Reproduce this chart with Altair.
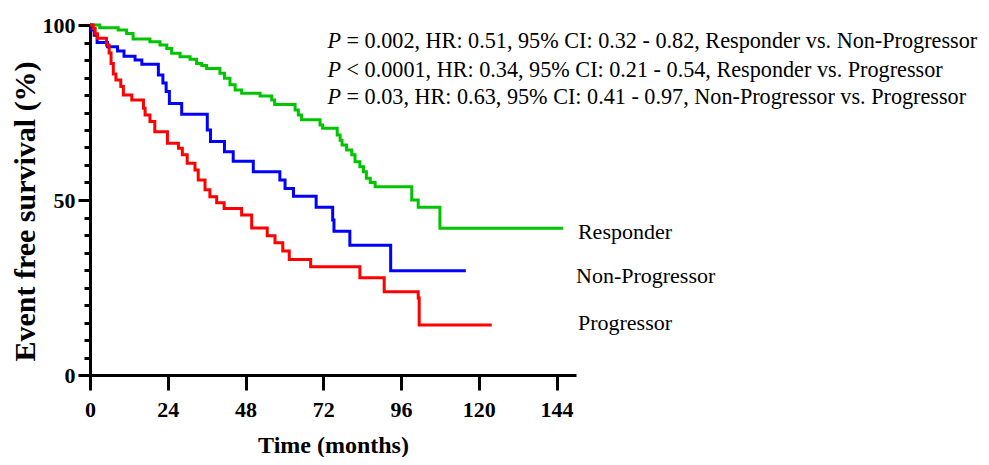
import altair as alt
import pandas as pd

# ---- data (time in months, event-free survival %) ----
green_t = [0, 3, 8.7, 11.3, 13.3, 18.5, 21.6, 23.7, 25.2, 27.8, 30.9, 32.9, 34.5, 36.0, 40.1,
           41.5, 43.2, 44.8, 46.8, 52.5, 56.1, 57.0, 63.3, 64.3, 65.3, 71.0, 71.8, 76.3, 77.2,
           77.8, 79.2, 80.8, 81.8, 83.3, 84.4, 85.3, 86.5, 88.0, 99.3, 101.3, 108.0, 146.0]
green_s = [100, 99.2, 98.6, 97.6, 96.0, 95.2, 94.3, 93.3, 91.9, 90.9, 90.2, 89.0, 88.4, 87.6, 86.2,
           84.8, 82.9, 81.4, 80.5, 79.7, 78.6, 77.3, 75.7, 74.3, 72.9, 71.4, 70.5, 68.6, 67.1,
           65.7, 64.3, 62.9, 60.9, 59.5, 58.1, 56.2, 55.0, 53.8, 50.0, 47.9, 41.9, 41.9]

blue_t = [0, 0.5, 1.3, 2.2, 5.4, 8.5, 10.5, 13.9, 16.0, 21.1, 22.5, 23.5, 24.5, 28.3, 36.2,
          37.2, 41.5, 44.2, 50.4, 58.6, 60.2, 62.8, 69.8, 74.9, 75.3, 80.2, 92.8, 116.0]
blue_s = [100, 98.6, 97.1, 95.0, 93.8, 92.6, 91.1, 90.0, 88.8, 85.7, 83.4, 81.0, 77.6, 74.5, 70.0,
          66.7, 63.8, 61.1, 58.1, 55.7, 53.3, 51.1, 47.9, 44.3, 41.1, 37.1, 29.8, 29.8]

red_t = [0, 1.0, 1.6, 2.3, 5.1, 5.9, 6.5, 7.2, 8.0, 9.5, 10.3, 12.9, 16.5, 17.0, 18.5, 20.0,
         23.9, 27.3, 28.5, 30.0, 32.4, 33.4, 35.5, 37.0, 39.1, 41.4, 46.8, 49.9, 54.7, 57.1,
         59.5, 61.5, 68.1, 83.3, 90.8, 101.3, 101.6, 124.0]
red_s = [100, 99.0, 97.5, 96.2, 94.3, 92.0, 89.0, 86.0, 84.3, 82.4, 80.0, 78.6, 76.2, 74.3, 72.4, 69.5,
         66.2, 64.8, 62.9, 60.5, 58.6, 55.7, 52.9, 50.9, 49.2, 47.6, 45.7, 42.0, 39.8, 37.8,
         35.4, 33.0, 30.9, 27.8, 23.8, 22.0, 14.3, 14.3]

group_names = ["Responder", "Non-Progressor", "Progressor"]
group_colors = ["#00C400", "#0000FF", "#FF0000"]
label_x = [150.6, 150.0, 150.6]
label_y = [38.9, 26.3, 12.9]

stat_p = ["P", "P", "P"]
stat_rest = ["= 0.002, HR: 0.51, 95% CI: 0.32 - 0.82, Responder vs. Non-Progressor",
             "< 0.0001, HR: 0.34, 95% CI: 0.21 - 0.54, Responder vs. Progressor",
             "= 0.03, HR: 0.63, 95% CI: 0.41 - 0.97, Non-Progressor vs. Progressor"]
stat_x = [73.3, 73.3, 73.3]
stat_y = [93.4, 85.1, 77.4]

x_ticks = [0, 24, 48, 72, 96, 120, 144]
y_ticks = list(range(0, 101, 5))

FONT = "Liberation Serif"

xs = alt.Scale(domain=[0, 150], nice=False, zero=False)
ys = alt.Scale(domain=[0, 100], nice=False)

x_axis = alt.Axis(values=x_ticks, title="Time (months)", grid=False, labelFlush=False,
                  labelFont=FONT, labelFontSize=22, labelFontWeight="bold", labelColor="black",
                  labelPadding=9, tickSize=15, tickWidth=3, tickColor="black",
                  domainWidth=3, domainColor="black",
                  titleFont=FONT, titleFontSize=24, titleFontWeight="bold", titleColor="black",
                  titleBaseline="alphabetic", titleY=77, titleX=243)
y_axis = alt.Axis(values=y_ticks, title="Event free survival (%)", grid=False, labelFlush=False,
                  labelExpr="datum.value % 50 == 0 ? datum.label : ''",
                  labelFont=FONT, labelFontSize=22, labelFontWeight="bold", labelColor="black",
                  labelPadding=3,
                  tickSize={"condition": {"test": "datum.value % 50 == 0", "value": 12}, "value": 6},
                  tickWidth=3, tickColor="black", domainWidth=3, domainColor="black",
                  titleFont=FONT, titleFontSize=30, titleFontWeight="bold", titleColor="black",
                  titleAlign="center", titleBaseline="middle", titleX=-65, titleY=186)


def X(field):
    return alt.X(field, scale=xs, axis=x_axis)


def Y(field):
    return alt.Y(field, scale=ys, axis=y_axis)


layers = []
series = [(green_t, green_s), (blue_t, blue_s), (red_t, red_s)]
for i, (t, s) in enumerate(series):
    df = pd.DataFrame({"x": t, "y": s})
    layers.append(alt.Chart(df).mark_line(interpolate="step-after", strokeWidth=3,
                                          color=group_colors[i]).encode(x=X("x:Q"), y=Y("y:Q")))

lab_df = pd.DataFrame({"x": label_x, "y": label_y, "name": group_names})
labels = alt.Chart(lab_df).mark_text(align="left", baseline="alphabetic", font=FONT,
                                     fontSize=22, color="black").encode(
    x=X("x:Q"), y=Y("y:Q"), text="name:N")

st_df = pd.DataFrame({"x": stat_x, "y": stat_y, "p": stat_p, "rest": stat_rest})
st_p = alt.Chart(st_df).mark_text(align="left", baseline="alphabetic", font=FONT, fontSize=22.2,
                                  fontStyle="italic", color="black").encode(
    x=X("x:Q"), y=Y("y:Q"), text="p:N")
st_rest = alt.Chart(st_df).mark_text(align="left", baseline="alphabetic", font=FONT, fontSize=22.2,
                                     dx=19, color="black").encode(
    x=X("x:Q"), y=Y("y:Q"), text="rest:N")

chart = alt.layer(*layers, labels, st_p, st_rest).properties(
    width=486, height=350,
    background="white",
    autosize=alt.AutoSizeParams(type="none"),
    padding={"left": 82, "top": 17, "right": 405, "bottom": 82},
).configure_view(stroke=None)

chart.save("out.html", embed_options={"renderer": "svg", "actions": False})
